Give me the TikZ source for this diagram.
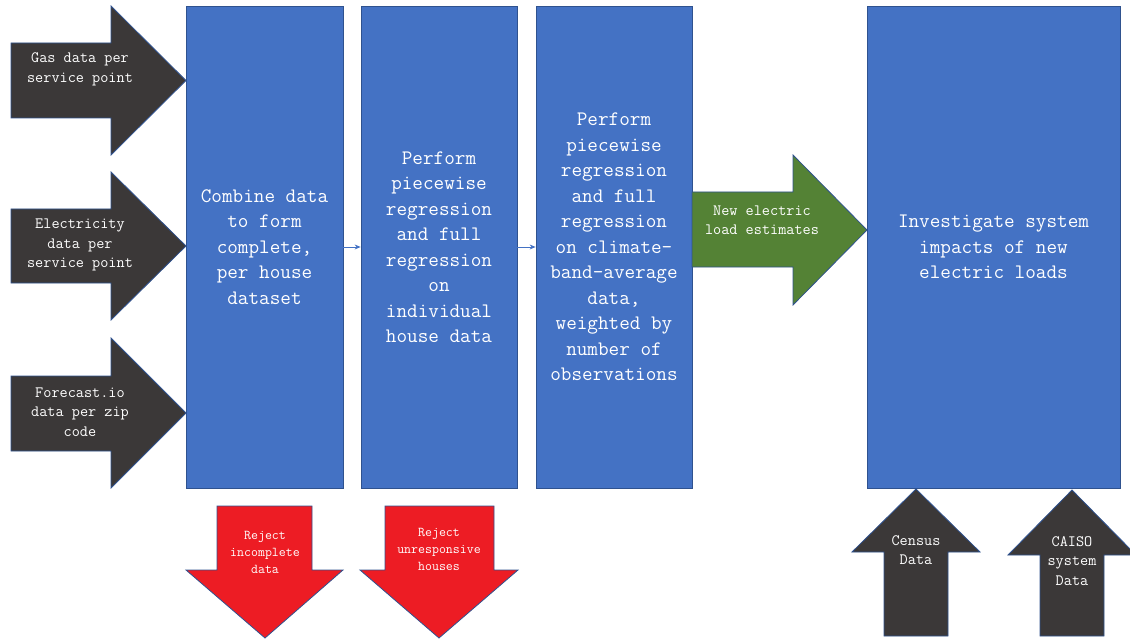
\documentclass[tikz,border=0pt]{standalone}
\usepackage{fontspec}
\usetikzlibrary{arrows.meta}
\definecolor{boxblue}{HTML}{4472C4}
\definecolor{edgeblue}{HTML}{2F528F}
\definecolor{darkarrow}{HTML}{3B3838}
\definecolor{greenarrow}{HTML}{548235}
\definecolor{redarrow}{HTML}{ED1C24}
\begin{document}
\begin{tikzpicture}[x=1pt,y=-1pt,
  stage/.style={draw=edgeblue, line width=0.8pt, fill=boxblue, minimum height=482pt, inner sep=0pt, text=white, align=center, font=\ttfamily\fontsize{20.6}{25.5}\selectfont},
  bigarrow/.style={draw=edgeblue, line width=0.8pt},
  lbl/.style={text=white, align=center, inner sep=0pt, font=\ttfamily\fontsize{15.8}{19.5}\selectfont},
  smalllbl/.style={text=white, align=center, inner sep=0pt, font=\ttfamily\fontsize{13.5}{17}\selectfont},
  conn/.style={draw=boxblue, line width=0.8pt, -{Stealth[length=6pt,width=5pt]}}]
\useasboundingbox (0,0) rectangle (1130,639);

% main stages
\node[stage, minimum width=157pt] (b1) at (264.5,247) {Combine data\\to form\\complete,\\per house\\dataset};
\node[stage, minimum width=156pt] (b2) at (439,247) {Perform\\piecewise\\regression\\and full\\regression\\on\\individual\\house data};
\node[stage, minimum width=156pt] (b3) at (614,247) {Perform\\piecewise\\regression\\and full\\regression\\on climate-\\band-average\\data,\\weighted by\\number of\\observations};
\node[stage, minimum width=253pt] (b4) at (993.5,247) {Investigate system\\impacts of new\\electric loads};

\draw[conn] (b1.east) -- (b2.west);
\draw[conn] (b2.east) -- (b3.west);

% input arrows (left)
\fill[darkarrow, bigarrow] (11,43) -- (111,43) -- (111,6) -- (186,80.5) -- (111,155) -- (111,118) -- (11,118) -- cycle;
\node[lbl] (gas) at (80,69.5) {Gas data per\\service point};
\fill[darkarrow, bigarrow] (11,209) -- (111,209) -- (111,172) -- (186,246) -- (111,320) -- (111,283) -- (11,283) -- cycle;
\node[lbl] (elec) at (80,245) {Electricity\\data per\\service point};
\fill[darkarrow, bigarrow] (11,376) -- (111,376) -- (111,338) -- (186,413) -- (111,488) -- (111,451) -- (11,451) -- cycle;
\node[lbl] (fc) at (80,412) {Forecast.io\\data per zip\\code};

% green arrow
\fill[greenarrow, bigarrow] (692,192) -- (793,192) -- (793,155) -- (867,230) -- (793,305) -- (793,267) -- (692,267) -- cycle;
\node[lbl] (newload) at (762,220) {New electric\\load estimates};

% red arrows
\fill[redarrow, bigarrow] (217,506) -- (312,506) -- (312,570) -- (343,570) -- (265,638) -- (186,570) -- (217,570) -- cycle;
\node[smalllbl] (rej1) at (265,552) {Reject\\incomplete\\data};
\fill[redarrow, bigarrow] (385,506) -- (494,506) -- (494,570) -- (518,570) -- (439,638) -- (360,570) -- (385,570) -- cycle;
\node[smalllbl] (rej2) at (439,549) {Reject\\unresponsive\\houses};

% up arrows
\fill[darkarrow, bigarrow] (884,636) -- (948,636) -- (948,552) -- (980,552) -- (916,489) -- (852,552) -- (884,552) -- cycle;
\node[lbl] (census) at (916,550) {Census\\Data};
\fill[darkarrow, bigarrow] (1040,636) -- (1104,636) -- (1104,555) -- (1136,555) -- (1072,490) -- (1008,555) -- (1040,555) -- cycle;
\node[lbl] (caiso) at (1072,561) {CAISO\\system\\Data};
\end{tikzpicture}
\end{document}
